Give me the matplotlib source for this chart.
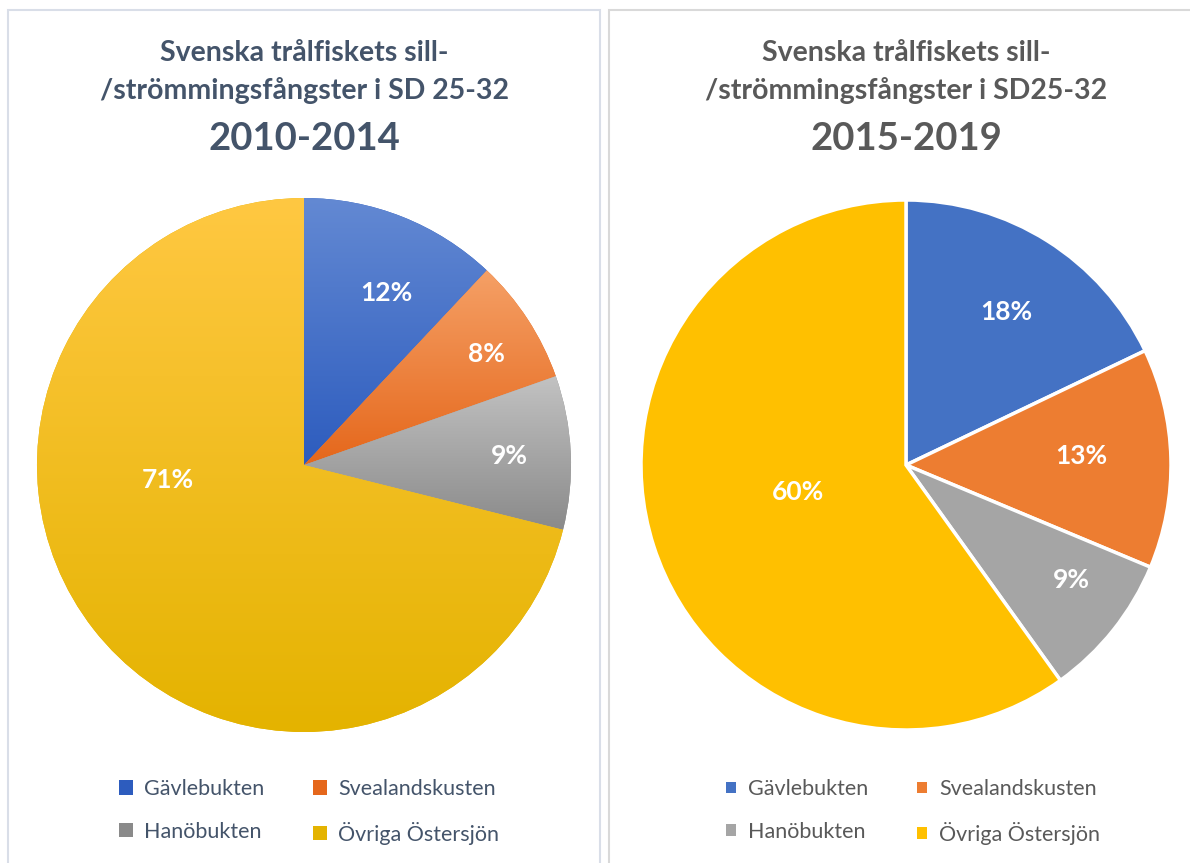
import numpy as np
import matplotlib.pyplot as plt
from matplotlib.colors import LinearSegmentedColormap
from matplotlib.patches import Rectangle, Patch

# data
areas = ["Gävlebukten", "Svealandskusten", "Hanöbukten", "Övriga Östersjön"]
share_2010_2014 = [12.0, 7.6, 9.3, 71.1]
share_2015_2019 = [17.9, 13.4, 8.8, 59.9]
labels_2010_2014 = ["12%", "8%", "9%", "71%"]
labels_2015_2019 = ["18%", "13%", "9%", "60%"]

title_2010 = "Svenska trålfiskets sill-\n/strömmingsfångster i SD 25-32"
title_2015 = "Svenska trålfiskets sill-\n/strömmingsfångster i SD25-32"

# colours
solid_colors = ["#4472C4", "#ED7D31", "#A5A5A5", "#FFC000"]
grad_colors = [("#6389D3", "#2D5CBE"), ("#F5A066", "#E5671B"),
               ("#C2C2C2", "#8A8A8A"), ("#FFC842", "#E4B300")]

# label positions (fraction of radius, x/y offset from centre)
lab_pos_2010 = [(0.307, 0.644), (0.685, 0.416), (0.768, 0.034), (-0.509, -0.056)]
lab_pos_2015 = [(0.377, 0.577), (0.660, 0.034), (0.623, -0.434), (-0.408, -0.102)]

FONT = "Lato"
W, H = 1190, 863
fig = plt.figure(figsize=(W / 100, H / 100), dpi=100)


def fx(px):
    return px / W


def fy(py):
    return 1 - py / H


# panel borders
fig.patches.append(Rectangle((fx(8), fy(880)), fx(592), fy(10) - fy(880),
                             transform=fig.transFigure, fill=False,
                             edgecolor="#D9DEE8", linewidth=1.5))
fig.patches.append(Rectangle((fx(609), fy(880)), fx(600), fy(10) - fy(880),
                             transform=fig.transFigure, fill=False,
                             edgecolor="#D9D9D9", linewidth=1.5))


def draw_pie(ax, values, labels, positions, gradient):
    if gradient:
        wedges, _ = ax.pie(values, startangle=90, counterclock=False,
                           colors=[c[1] for c in grad_colors], radius=1)
        for w, (c_top, c_bot) in zip(wedges, grad_colors):
            ext = w.get_path().get_extents()
            cmap = LinearSegmentedColormap.from_list("g", [c_bot, c_top])
            grad = np.linspace(0, 1, 256).reshape(-1, 1)
            im = ax.imshow(grad, cmap=cmap, origin="lower", aspect="auto",
                           extent=[ext.x0, ext.x1, ext.y0, ext.y1], zorder=2)
            im.set_clip_path(w)
            w.set_edgecolor("none")
    else:
        wedges, _ = ax.pie(values, startangle=90, counterclock=False,
                           colors=solid_colors, radius=1,
                           wedgeprops=dict(edgecolor="white", linewidth=2.5))
    for lab, (x, y) in zip(labels, positions):
        ax.text(x, y, lab, ha="center", va="center", color="white",
                fontsize=19, fontweight="bold", family=FONT, zorder=5)
    ax.set_xlim(-1, 1)
    ax.set_ylim(-1, 1)
    ax.set_aspect("equal")
    ax.axis("off")
    return wedges


ax1 = fig.add_axes([fx(37), fy(732), fx(534), fy(198) - fy(732)])
draw_pie(ax1, share_2010_2014, labels_2010_2014, lab_pos_2010, True)
ax2 = fig.add_axes([fx(641), fy(730), fx(530), fy(200) - fy(730)])
draw_pie(ax2, share_2015_2019, labels_2015_2019, lab_pos_2015, False)

# titles
fig.text(fx(304), fy(72), title_2010, ha="center", va="center", color="#44546A",
         fontsize=20.5, fontweight="bold", family=FONT, linespacing=1.5)
fig.text(fx(304), fy(139), "2010-2014", ha="center", va="center", color="#44546A",
         fontsize=27.5, fontweight="bold", family=FONT)
fig.text(fx(906), fy(72), title_2015, ha="center", va="center", color="#595959",
         fontsize=20.5, fontweight="bold", family=FONT, linespacing=1.5)
fig.text(fx(906), fy(139), "2015-2019", ha="center", va="center", color="#595959",
         fontsize=27.5, fontweight="bold", family=FONT)

# legends
h1 = [Patch(facecolor=c[1], edgecolor="none") for c in grad_colors]
h2 = [Patch(facecolor=c, edgecolor="none") for c in solid_colors]
order = [0, 2, 1, 3]
fig.legend([h1[i] for i in order], [areas[i] for i in order], ncol=2,
           loc="center", bbox_to_anchor=(fx(309), fy(812)), frameon=False,
           prop=dict(family=FONT, size=15.5), labelcolor="#44546A",
           handlelength=0.65, handleheight=0.65, handletextpad=0.5,
           columnspacing=2.3, labelspacing=1.05)
fig.legend([h2[i] for i in order], [areas[i] for i in order], ncol=2,
           loc="center", bbox_to_anchor=(fx(913), fy(812)), frameon=False,
           prop=dict(family=FONT, size=15.5), labelcolor="#595959",
           handlelength=0.45, handleheight=0.45, handletextpad=0.55,
           columnspacing=2.3, labelspacing=1.05)

fig.savefig("out.png", dpi=100)
